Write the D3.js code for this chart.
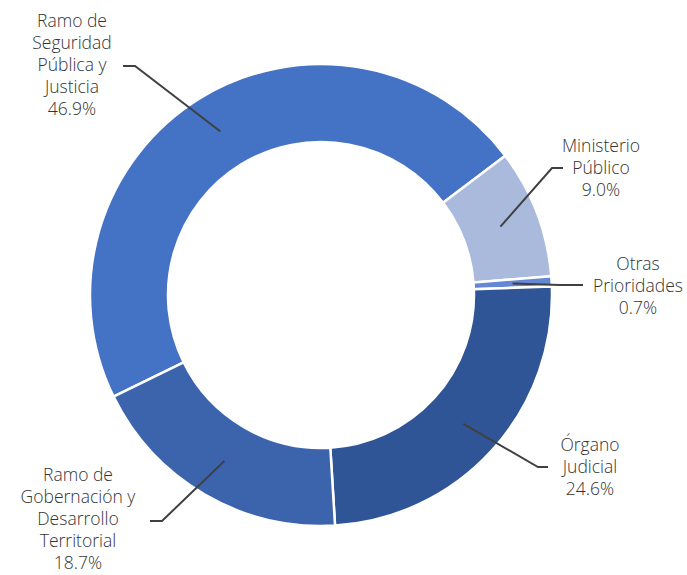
<!DOCTYPE html>
<html>
<head>
<meta charset="utf-8">
<script src="https://cdn.jsdelivr.net/npm/d3@7"></script>
<style>
  html, body { margin: 0; padding: 0; background: #ffffff; }
  svg { display: block; }
</style>
</head>
<body>
<script>
// ---- data ----
const categories = [
  "Ramo de Seguridad Pública y Justicia",
  "Ministerio Público",
  "Otras Prioridades",
  "Órgano Judicial",
  "Ramo de Gobernación y Desarrollo Territorial"
];
const values = [46.9, 9.0, 0.7, 24.6, 18.7];
const labelLines = [
  ["Ramo de", "Seguridad", "Pública y", "Justicia"],
  ["Ministerio", "Público"],
  ["Otras", "Prioridades"],
  ["Órgano", "Judicial"],
  ["Ramo de", "Gobernación y", "Desarrollo", "Territorial"]
];
const colors = ["#4472C4", "#AABADD", "#6488D3", "#2F5596", "#3B64AD"];

// ---- layout (not data) ----
const W = 687, H = 575;
const cx = 321, cy = 295, outerR = 231, innerR = 153;
const startDeg = -116.1;
// label block: center x, first-line y (middle), line height, elbow x, elbow y, end x
const labelLayout = [
  { x: 72,  y: 21,  lh: 22, ex: 135, ey: 66,  lx: 123 },
  { x: 601, y: 146, lh: 22, ex: 552, ey: 168, lx: 563 },
  { x: 638, y: 264, lh: 22, ex: 560, ey: 285, lx: 583 },
  { x: 590, y: 445, lh: 22, ex: 538, ey: 467, lx: 548 },
  { x: 78,  y: 475, lh: 22, ex: 162, ey: 521, lx: 150 }
];

const svg = d3.select("body").append("svg")
  .attr("width", W).attr("height", H);

const g = svg.append("g").attr("transform", `translate(${cx},${cy})`);

const pie = d3.pie().sort(null).value(d => d)
  .startAngle(startDeg * Math.PI / 180)
  .endAngle(startDeg * Math.PI / 180 + 2 * Math.PI);
const arcs = pie(values);

const arc = d3.arc().innerRadius(innerR).outerRadius(outerR);
const midArc = d3.arc().innerRadius((innerR + outerR) / 2).outerRadius((innerR + outerR) / 2);

g.selectAll("path.slice").data(arcs).enter().append("path")
  .attr("class", "slice")
  .attr("d", arc)
  .attr("fill", (d, i) => colors[i])
  .attr("stroke", "#ffffff")
  .attr("stroke-width", 2.5)
  .attr("stroke-linejoin", "miter");

// leader lines
g.selectAll("polyline.leader").data(arcs).enter().append("polyline")
  .attr("class", "leader")
  .attr("points", (d, i) => {
    const c = midArc.centroid(d);
    const L = labelLayout[i];
    return [[c[0], c[1]], [L.ex - cx, L.ey - cy], [L.lx - cx, L.ey - cy]].map(p => p.join(",")).join(" ");
  })
  .attr("fill", "none")
  .attr("stroke", "#404040")
  .attr("stroke-width", 2);

// labels
const lab = svg.selectAll("text.lbl").data(arcs).enter().append("text")
  .attr("class", "lbl")
  .attr("text-anchor", "middle")
  .attr("font-family", "'Open Sans', 'Noto Sans', sans-serif")
  .attr("font-weight", 300)
  .attr("font-size", 17.5)
  .attr("fill", "#333333");

lab.each(function (d, i) {
  const t = d3.select(this);
  const L = labelLayout[i];
  const lines = labelLines[i].concat([d3.format(".1f")(values[i]) + "%"]);
  lines.forEach((s, k) => {
    t.append("tspan")
      .attr("x", L.x)
      .attr("y", L.y + k * L.lh)
      .attr("dy", "0.35em")
      .text(s);
  });
});
</script>
</body>
</html>
